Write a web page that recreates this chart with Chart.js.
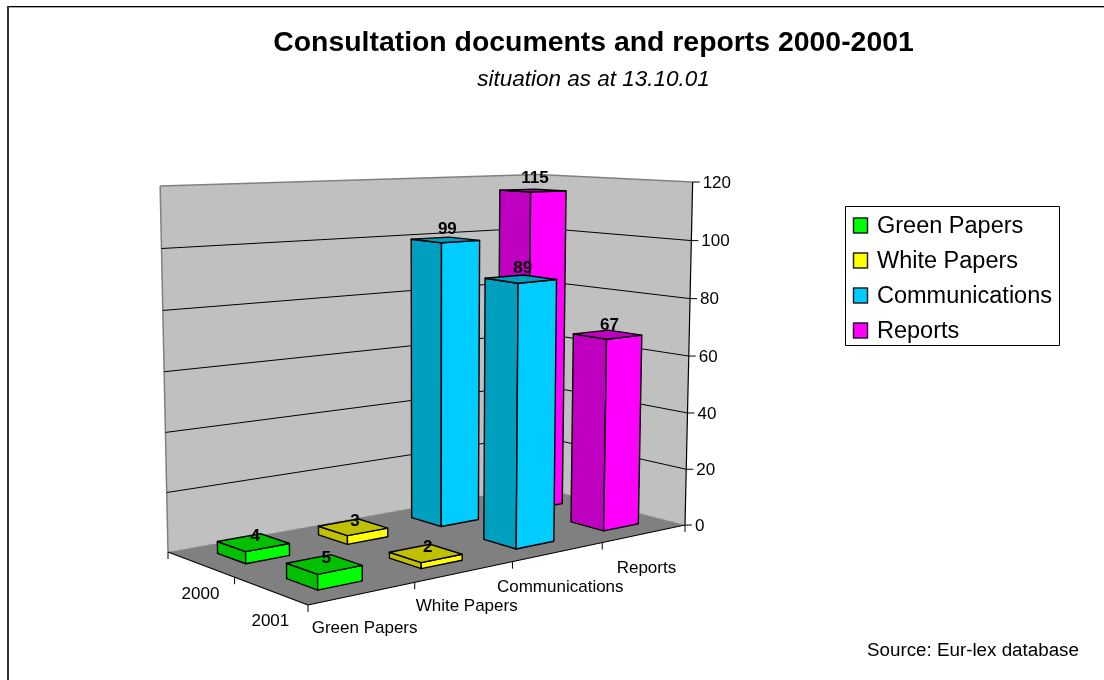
<!DOCTYPE html>
<html>
<head>
<meta charset="utf-8">
<title>Consultation documents and reports 2000-2001</title>
<script src="https://cdn.jsdelivr.net/npm/chart.js@4"></script>
<style>
  html, body { margin: 0; padding: 0; background: #fff; }
  canvas { display: block; }
</style>
</head>
<body>
<canvas id="myChart" width="1104" height="680"></canvas>
<script>
const years = ["2000", "2001"];
const seriesNames = ["Green Papers", "White Papers", "Communications", "Reports"];
const greenPapers = [4, 5];
const whitePapers = [3, 2];
const communications = [99, 89];
const reports = [115, 67];
const yTicks = { min: 0, max: 120, step: 20 };
const sourceText = "Source: Eur-lex database";

const frontColors = ["#00ff00", "#ffff00", "#00ccff", "#ff00ff"];
const shadeColors = ["#00c000", "#c0c000", "#009fc0", "#c000c0"];
const FONT = "'Liberation Sans', Arial, sans-serif";

// floor corners on screen: A back-left, B front-left, C front-right, D back
const floorQuad = { A: [168, 552], B: [308, 605], C: [685, 525], D: [535, 486] };
// wall height in px above each floor corner
const wallHeight = { A: 366, B: 396, C: 343, D: 311.5 };
const CENTER_X = 430;
const LEAN = 0.03;
const SAG = 0.03;
const BAR_FILL = 0.42;

// unit square -> quad, u runs along the series, v runs back to front
function makeProjector(q) {
  const [x0, y0] = q.A, [x1, y1] = q.D, [x2, y2] = q.C, [x3, y3] = q.B;
  const dx1 = x1 - x2, dx2 = x3 - x2, sx = x0 - x1 + x2 - x3;
  const dy1 = y1 - y2, dy2 = y3 - y2, sy = y0 - y1 + y2 - y3;
  const den = dx1 * dy2 - dx2 * dy1;
  const g = (sx * dy2 - dx2 * sy) / den;
  const h = (dx1 * sy - sx * dy1) / den;
  const a = x1 - x0 + g * x1, b = x3 - x0 + h * x3;
  const d = y1 - y0 + g * y1, e = y3 - y0 + h * y3;
  return (u, v) => {
    const w = g * u + h * v + 1;
    return [(a * u + b * v + x0) / w, (d * u + e * v + y0) / w];
  };
}
const floorAt = makeProjector(floorQuad);

function project(u, v, w) {
  const f = floorAt(u, v);
  const H = (1 - u) * (1 - v) * wallHeight.A + (1 - u) * v * wallHeight.B + u * v * wallHeight.C + u * (1 - v) * wallHeight.D;
  const lift = w - SAG * w * (1 - w);
  return [f[0] + (f[0] - CENTER_X) * LEAN * lift, f[1] - H * lift];
}

function poly(ctx, pts, fill, stroke, lw) {
  ctx.beginPath();
  pts.forEach((p, i) => i ? ctx.lineTo(p[0], p[1]) : ctx.moveTo(p[0], p[1]));
  ctx.closePath();
  if (fill) { ctx.fillStyle = fill; ctx.fill(); }
  if (stroke) { ctx.strokeStyle = stroke; ctx.lineWidth = lw || 1; ctx.stroke(); }
}

function line(ctx, a, b, color, lw) {
  ctx.beginPath();
  ctx.moveTo(a[0], a[1]);
  ctx.lineTo(b[0], b[1]);
  ctx.strokeStyle = color;
  ctx.lineWidth = lw || 1;
  ctx.stroke();
}

function label(ctx, text, x, y, font, align) {
  ctx.font = font;
  ctx.fillStyle = "#000";
  ctx.textAlign = align || "center";
  ctx.textBaseline = "middle";
  ctx.fillText(text, x, y);
}

function drawBox(chart) {
  const ctx = chart.ctx, yScale = chart.scales.y;
  const wOf = v => (yScale.bottom - yScale.getPixelForValue(v)) / yScale.height;

  poly(ctx, [project(0, 0, 0), project(1, 0, 0), project(1, 0, 1), project(0, 0, 1)], "#c0c0c0");
  poly(ctx, [project(1, 0, 0), project(1, 1, 0), project(1, 1, 1), project(1, 0, 1)], "#c0c0c0");
  poly(ctx, [project(0, 0, 0), project(0, 1, 0), project(1, 1, 0), project(1, 0, 0)], "#808080");

  line(ctx, project(0, 0, 0), project(0, 0, 1), "#808080", 1.5);
  line(ctx, project(0, 0, 1), project(1, 0, 1), "#808080", 1.5);
  line(ctx, project(1, 0, 1), project(1, 1, 1), "#808080", 1.5);

  yScale.ticks.forEach(t => {
    const w = wOf(t.value);
    if (t.value > 0 && t.value < yTicks.max) {
      line(ctx, project(0, 0, w), project(1, 0, w), "#000");
      line(ctx, project(1, 0, w), project(1, 1, w), "#000");
    }
    const p = project(1, 1, w);
    line(ctx, p, [p[0] + 7, p[1]], "#000");
    label(ctx, String(t.value), p[0] + 10, p[1] + 1, "17px " + FONT, "left");
  });
  line(ctx, project(1, 1, 0), project(1, 1, 1), "#000", 1.2);

  ctx.setLineDash([5, 5]);
  line(ctx, project(0, 0, 0), project(1, 0, 0), "#a0a0a0");
  line(ctx, project(1, 0, 0), project(1, 1, 0), "#a0a0a0");
  ctx.setLineDash([]);
}

function drawAxes(chart) {
  const ctx = chart.ctx, xScale = chart.scales.x, depth = chart.scales.depth;
  line(ctx, project(0, 0, 0), project(0, 1, 0), "#000", 1.2);
  line(ctx, project(0, 1, 0), project(1, 1, 0), "#000", 1.2);

  for (let i = 0; i <= seriesNames.length; i++) {
    const p = project(i / seriesNames.length, 1, 0);
    line(ctx, p, [p[0], p[1] + 7], "#000");
  }
  for (let i = 0; i < years.length; i++) {
    const p = project(0, i / years.length, 0);
    line(ctx, p, [p[0], p[1] + 7], "#000");
  }
  seriesNames.forEach((name, i) => {
    const u = (depth.getPixelForValue(i) - depth.left) / depth.width;
    const p = project(u, 1, 0);
    label(ctx, name, p[0] + 2, p[1] + 35, "17px " + FONT);
  });
  years.forEach((yr, i) => {
    const v = (xScale.getPixelForValue(i) - xScale.left) / xScale.width;
    const p = project(0, v, 0);
    label(ctx, yr, p[0], p[1] + 30.5, "17px " + FONT);
  });
}

function drawBars(chart) {
  const ctx = chart.ctx, xScale = chart.scales.x, yScale = chart.scales.y, depth = chart.scales.depth;
  const hu = BAR_FILL / seriesNames.length / 2;
  const hv = BAR_FILL / years.length / 2;
  const labels = [];

  ctx.lineJoin = "round";
  for (let yi = 0; yi < years.length; yi++) {
    for (let si = seriesNames.length - 1; si >= 0; si--) {
      const value = chart.data.datasets[si].data[yi];
      const u = (depth.getPixelForValue(si) - depth.left) / depth.width;
      const v = (xScale.getPixelForValue(yi) - xScale.left) / xScale.width;
      const w = (yScale.bottom - yScale.getPixelForValue(value)) / yScale.height;
      const left = [u - hu, v - hv], front = [u - hu, v + hv], right = [u + hu, v + hv], back = [u + hu, v - hv];
      const at = (c, h) => project(c[0], c[1], h);

      poly(ctx, [at(left, 0), at(front, 0), at(front, w), at(left, w)], shadeColors[si], "#000", 1.4);
      poly(ctx, [at(front, 0), at(right, 0), at(right, w), at(front, w)], frontColors[si], "#000", 1.4);
      poly(ctx, [at(left, w), at(front, w), at(right, w), at(back, w)], shadeColors[si], "#000", 1.4);

      const c = project(u, v, w);
      labels.push([String(value), c[0] + 2, c[1] - 6 - 6 * w]);
    }
  }
  labels.forEach(l => label(ctx, l[0], l[1], l[2], "bold 17px " + FONT));
}

function drawLegend(chart) {
  const ctx = chart.ctx;
  ctx.fillStyle = "#fff";
  ctx.fillRect(845, 206, 215, 140);
  ctx.strokeStyle = "#000";
  ctx.lineWidth = 1;
  ctx.strokeRect(845.5, 206.5, 214, 139);
  chart.data.datasets.forEach((ds, i) => {
    const y = 225 + i * 35;
    ctx.fillStyle = ds.backgroundColor;
    ctx.fillRect(853, y - 7, 15, 15);
    ctx.strokeStyle = "#222";
    ctx.lineWidth = 1.5;
    ctx.strokeRect(853.5, y - 7, 14, 15);
    label(ctx, ds.label, 877, y + 2, "23.5px " + FONT, "left");
  });
}

const box3d = {
  id: "box3d",
  beforeDraw(chart) {
    const ctx = chart.ctx;
    ctx.fillStyle = "#fff";
    ctx.fillRect(0, 0, chart.width, chart.height);
    ctx.fillStyle = "#000";
    ctx.fillRect(7, 6, chart.width - 7, 1);
    ctx.fillStyle = "#aaa";
    ctx.fillRect(9, 7, chart.width - 9, 1);
    ctx.fillStyle = "#333";
    ctx.fillRect(7, 6, 2, chart.height - 6);
  },
  beforeDatasetsDraw(chart) {
    drawBox(chart);
    drawAxes(chart);
    drawBars(chart);
    drawLegend(chart);
    label(chart.ctx, sourceText, 867, 651, "18.8px " + FONT, "left");
    return false; // the flat bars are not wanted, everything is drawn above
  }
};

const seriesValues = [greenPapers, whitePapers, communications, reports];

new Chart(document.getElementById("myChart"), {
  type: "bar",
  plugins: [box3d],
  data: {
    labels: years,
    datasets: seriesNames.map((name, i) => ({
      label: name,
      data: seriesValues[i],
      backgroundColor: frontColors[i]
    }))
  },
  options: {
    responsive: false,
    animation: false,
    layout: { padding: { left: 83, top: 26 } },
    plugins: {
      legend: { display: false },
      tooltip: { enabled: false },
      title: {
        display: true,
        text: "Consultation documents and reports 2000-2001",
        color: "#000",
        font: { family: FONT, size: 28.4, weight: "bold" },
        padding: { top: 0, bottom: 4 }
      },
      subtitle: {
        display: true,
        text: "situation as at 13.10.01",
        color: "#000",
        font: { family: FONT, size: 22.5, style: "italic", weight: "normal" },
        padding: { top: 2, bottom: 10 }
      }
    },
    scales: {
      x: { type: "category", display: false },
      depth: { type: "category", axis: "x", labels: seriesNames, offset: true, display: false },
      y: { type: "linear", min: yTicks.min, max: yTicks.max, ticks: { stepSize: yTicks.step }, display: false }
    }
  }
});
</script>
</body>
</html>
